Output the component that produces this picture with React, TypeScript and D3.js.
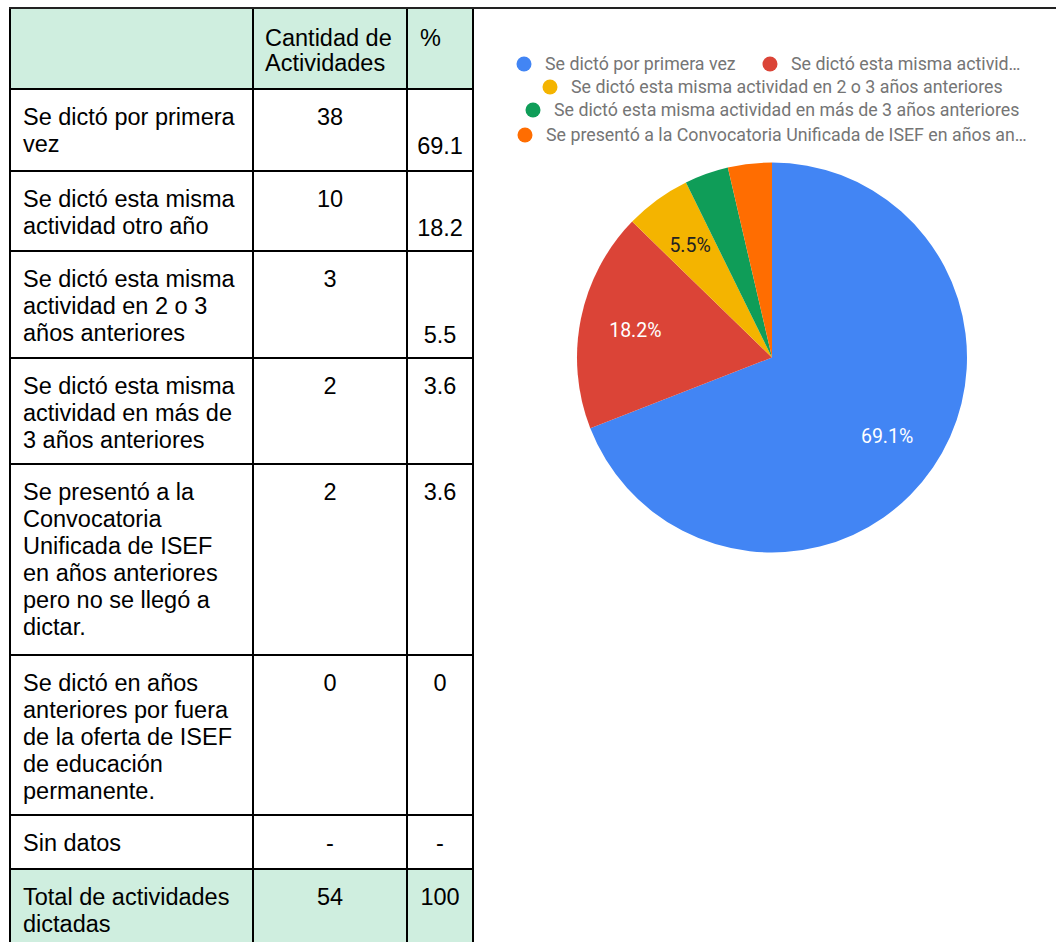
import React from "react";
import * as d3 from "d3";

const rowLabels: string[][] = [
  ["Se dictó por primera", "vez"],
  ["Se dictó esta misma", "actividad otro año"],
  ["Se dictó esta misma", "actividad en 2 o 3", "años anteriores"],
  ["Se dictó esta misma", "actividad en más de", "3 años anteriores"],
  ["Se presentó a la", "Convocatoria", "Unificada de ISEF", "en años anteriores", "pero no se llegó a", "dictar."],
  ["Se dictó en años", "anteriores por fuera", "de la oferta de ISEF", "de educación", "permanente."],
  ["Sin datos"],
  ["Total de actividades", "dictadas"],
];
const counts: string[] = ["38", "10", "3", "2", "2", "0", "-", "54"];
const percents: string[] = ["69.1", "18.2", "5.5", "3.6", "3.6", "0", "-", "100"];
const pctOnLastLine: boolean[] = [true, true, true, false, false, false, false, false];
const rowHeights: number[] = [82, 80, 107, 106, 191, 160, 54, 80];
const headerLines: string[] = ["Cantidad de", "Actividades"];
const headerPct = "%";

const pieValues: number[] = [38, 10, 3, 2, 2];
const legendLabels: string[] = [
  "Se dictó por primera vez",
  "Se dictó esta misma activid…",
  "Se dictó esta misma actividad en 2 o 3 años anteriores",
  "Se dictó esta misma actividad en más de 3 años anteriores",
  "Se presentó a la Convocatoria Unificada de ISEF en años an…",
];
const pieColors: string[] = ["#4285F4", "#DB4437", "#F4B400", "#0F9D58", "#FF6D01"];
const labelColors: string[] = ["#ffffff", "#ffffff", "#222222", "#ffffff", "#ffffff"];

export default function App() {
  const W = 1056, H = 942;
  const colX = [10, 253, 407, 473];
  const headerTop = 9, headerBottom = 89;
  const mint = "#cfeedf";
  const font = "'Liberation Sans', Arial, sans-serif";
  const fs = 23.5;
  const lh = 27;

  const rowTops: number[] = [];
  let y = headerBottom;
  rowHeights.forEach((h) => { rowTops.push(y); y += h; });

  const cx = 772, cy = 357.5, R = 195;
  const pie = d3.pie<number>().sort(null).value((d) => d).startAngle(0).endAngle(2 * Math.PI);
  const arcs = pie(pieValues);
  const arc = d3.arc<d3.PieArcDatum<number>>().innerRadius(0).outerRadius(R);
  const labelArc = d3.arc<d3.PieArcDatum<number>>().innerRadius(R * 0.715).outerRadius(R * 0.715);
  const total = d3.sum(pieValues);
  const fmt = d3.format(".1f");

  const legendFont = "Roboto, 'Noto Sans', sans-serif";
  const legendItems = [
    { i: 0, x: 524, y: 64 },
    { i: 1, x: 770, y: 64 },
    { i: 2, x: 550, y: 87 },
    { i: 3, x: 533, y: 110 },
    { i: 4, x: 525, y: 135 },
  ];

  const lastRow = rowLabels.length - 1;

  return (
    <svg width={W} height={H} style={{ position: "absolute", left: 0, top: 0, background: "#fff" }}>
      <rect x={colX[0]} y={headerTop} width={colX[3] - colX[0]} height={headerBottom - headerTop} fill={mint} />
      <rect x={colX[0]} y={rowTops[lastRow]} width={colX[3] - colX[0]} height={H - rowTops[lastRow]} fill={mint} />

      {headerLines.map((t, i) => (
        <text key={"h" + i} x={265} y={46 + i * 25} fontFamily={font} fontSize={fs} fill="#000">{t}</text>
      ))}
      <text x={420} y={46} fontFamily={font} fontSize={fs} fill="#000">{headerPct}</text>

      {rowLabels.map((lines, r) => {
        const top = rowTops[r];
        const base = top + 36;
        const pctY = pctOnLastLine[r] ? base + (lines.length - 1) * lh + 2 : base;
        return (
          <g key={"r" + r}>
            {lines.map((t, i) => (
              <text key={i} x={23} y={base + i * lh} fontFamily={font} fontSize={fs} fill="#000">{t}</text>
            ))}
            <text x={330} y={base} textAnchor="middle" fontFamily={font} fontSize={fs} fill="#000">{counts[r]}</text>
            <text x={440} y={pctY} textAnchor="middle" fontFamily={font} fontSize={fs} fill="#000">{percents[r]}</text>
          </g>
        );
      })}

      {[headerBottom, ...rowTops.slice(1)].map((yy, i) => (
        <line key={"hl" + i} x1={colX[0]} x2={colX[3]} y1={yy} y2={yy} stroke="#000" strokeWidth={2} />
      ))}
      {colX.map((xx, i) => (
        <line key={"vl" + i} x1={xx} x2={xx} y1={8} y2={H} stroke="#000" strokeWidth={2} />
      ))}
      <line x1={9} x2={W} y1={8} y2={8} stroke="#222" strokeWidth={2} />

      {legendItems.map(({ i, x, y: ly }) => (
        <g key={"lg" + i}>
          <circle cx={x} cy={ly} r={7.5} fill={pieColors[i]} />
          <text x={x + 21} y={ly + 6} fontFamily={legendFont} fontSize={17.8} fill="#757575">{legendLabels[i]}</text>
        </g>
      ))}

      <g transform={`translate(${cx},${cy})`}>
        {arcs.map((a, i) => (
          <path key={"s" + i} d={arc(a) || ""} fill={pieColors[i]} />
        ))}
        {arcs.map((a, i) => {
          const pct = (a.data / total) * 100;
          if (pct < 5) return null;
          const [lx, ly] = labelArc.centroid(a);
          return (
            <text key={"pl" + i} x={lx} y={ly} dy="0.35em" textAnchor="middle" fontFamily={legendFont}
              fontSize={19.5} fill={labelColors[i]}>{fmt(pct) + "%"}</text>
          );
        })}
      </g>
    </svg>
  );
}
